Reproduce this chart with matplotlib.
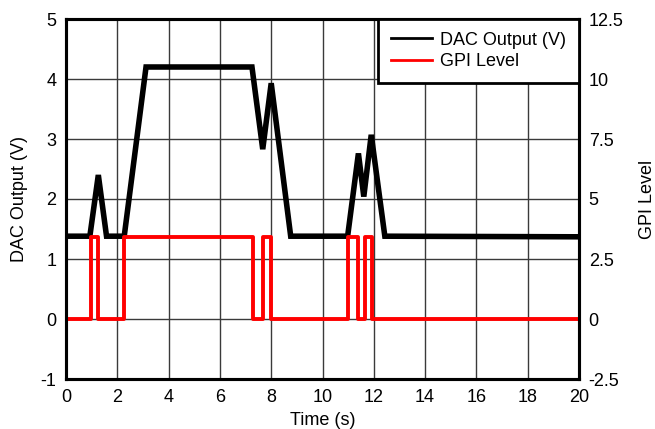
import matplotlib
matplotlib.use("Agg")
import matplotlib.pyplot as plt

plt.rcParams['font.family'] = ['Liberation Sans', 'DejaVu Sans']
plt.rcParams['axes.unicode_minus'] = False

# DAC output trace, key points (s, V)
dac_t = [0, 0.93, 1.26, 1.58, 2.27, 3.12, 7.25, 7.67, 8.0, 8.76,
         10.98, 11.4, 11.61, 11.9, 12.43, 20]
dac_v = [1.38, 1.38, 2.4, 1.38, 1.38, 4.2, 4.2, 2.83, 3.93, 1.38,
         1.38, 2.76, 2.04, 3.07, 1.38, 1.37]

# GPI level edges (s) and level after each edge
gpi_t = [0, 0.96, 1.25, 2.27, 7.29, 7.67, 8.0, 10.98, 11.38, 11.64, 11.93, 20]
gpi_v = [0, 3.42, 0, 3.42, 0, 3.42, 0, 3.42, 0, 3.42, 0, 0]

x_ticks = list(range(0, 21, 2))
left_ticks = [-1, 0, 1, 2, 3, 4, 5]
right_ticks = [-2.5, 0, 2.5, 5, 7.5, 10, 12.5]
right_labels = ["-2.5", "0", "2.5", "5", "7.5", "10", "12.5"]

fig = plt.figure(figsize=(6.55, 4.29), dpi=100)
ax = fig.add_axes([66/655, 1 - 379/429, 513/655, 360/429])
ax2 = ax.twinx()

l1, = ax.plot(dac_t, dac_v, color="black", lw=4.0, solid_joinstyle="miter")
l2, = ax2.step(gpi_t, gpi_v, where="post", color="#ff0000", lw=2.8)

ax.set_xlim(0, 20)
ax.set_ylim(-1, 5)
ax2.set_ylim(-2.5, 12.5)
ax.set_xticks(x_ticks)
ax.set_yticks(left_ticks)
ax2.set_yticks(right_ticks)
ax2.set_yticklabels(right_labels)

ax.grid(True, color="#3a3a3a", lw=1.0)
ax.set_axisbelow(True)

for a in (ax, ax2):
    a.tick_params(length=0, labelsize=13, pad=7)
    for s in a.spines.values():
        s.set_linewidth(2.2)
        s.set_color("black")

ax.set_xlabel("Time (s)", fontsize=13, va="center", ha="center")
ax.set_ylabel("DAC Output (V)", fontsize=13, va="center", ha="center")
ax2.set_ylabel("GPI Level", fontsize=13, rotation=90, va="center", ha="center")
ax.xaxis.set_label_coords(0.5, -0.114)
ax.yaxis.set_label_coords(-0.09, 0.5)
ax2.yaxis.set_label_coords(1.134, 0.5)

leg = ax2.legend([l1, l2], ["DAC Output (V)", "GPI Level"], loc="upper right",
                 fontsize=13, fancybox=False, framealpha=1, borderaxespad=0,
                 handlelength=2.3, handletextpad=0.45, borderpad=0.7,
                 labelspacing=0.25)
leg.get_frame().set_edgecolor("black")
leg.get_frame().set_linewidth(2.0)
for h in leg.get_lines():
    h.set_linewidth(2.0)

fig.savefig("out.png", dpi=100)
